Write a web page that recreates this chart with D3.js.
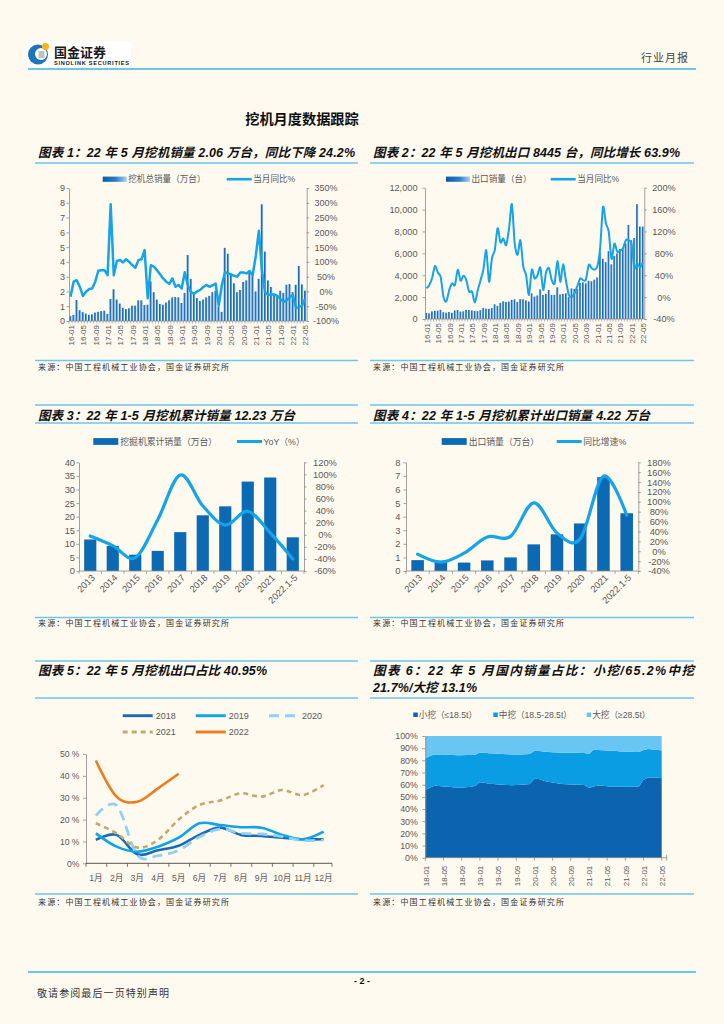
<!DOCTYPE html>
<html>
<head>
<meta charset="utf-8">
<script src="https://cdn.jsdelivr.net/npm/d3@7"></script>
<style>
  body { margin: 0; background: #fffaf0; }
  svg { display: block; }
</style>
</head>
<body>
<div id="page"></div>
<script>
// ---- data ----
// 图表1 挖机总销量（万台），16-01 ~ 22-05
const totalSales = [
  0.33, 0.41, 1.42, 0.73, 0.60, 0.50, 0.42, 0.45, 0.57, 0.62, 0.67, 0.70,
  0.48, 1.48, 2.15, 1.45, 1.18, 0.90, 0.80, 0.86, 1.04, 1.04, 1.40, 1.40,
  1.08, 1.10, 2.68, 1.95, 1.45, 1.15, 1.10, 1.25, 1.40, 1.60, 1.62, 1.60,
  1.22, 1.90, 4.46, 2.85, 1.92, 1.55, 1.35, 1.45, 1.60, 1.70, 1.95, 2.05,
  0.97, 0.62, 4.95, 4.55, 3.20, 2.55, 1.95, 2.10, 2.65, 2.75, 3.30, 3.10,
  2.00, 2.85, 7.90, 4.70, 2.75, 2.30, 1.80, 1.70, 2.05, 1.90, 2.45, 2.50,
  1.95, 2.45, 3.72, 2.48, 2.06
];
// 当月同比%
const totalYoY = [
  -18, 33, 38, 16, -15, -1, 8, 10, 33, 70, 72, 72,
  55, 295, 55, 103, 106, 98, 109, 100, 89, 80, 106, 109,
  140, -23, 89, 84, 72, 58, 44, 33, 26, 44, 16, 22,
  10, 65, 20, -2, -8, 0, 5, 15, 22, 16, 20, 27,
  -48, 20, 65, 61, 58, 53, 50, 64, 64, 61, 69, 55,
  120, 205, 70, -2, -12, -10, -10, -15, -25, -35, -30, -20,
  -12, -55, -53, -48, -25
];
// 图表2 出口销量（台）
const exportSales = [
  560, 520, 700, 750, 760, 840, 620, 580, 640, 560, 780, 820,
  680, 700, 840, 820, 780, 740, 720, 800, 1000, 950, 930, 1000,
  1350, 1200, 1480, 1620, 1560, 1580, 1750, 1800, 1550, 1820, 1800, 1700,
  1600, 2350, 2050, 2150, 2700, 2200, 2300, 2650, 2200, 2200, 2900, 2250,
  2300, 2350, 2000, 2800, 2750, 2750, 3300, 3350, 3250, 3500, 3450, 3600,
  3800, 6100, 5500, 5200, 6200, 5000, 5750, 6000, 6400, 6400, 6900, 8600,
  7200, 7400, 10500, 8450, 8445
];
const exportYoY = [
  16, 22, 35, 57, 45, 37, 0, -8, 13, 25, 22, 50,
  30, 39, 31, 10, 10, -10, 12, 31, 50, 86, 28, 71,
  86, 126, 100, 107, 95, 125, 170, 98, 77, 104, 56, 40,
  4, 50, 34, 40, 54, 13, 45, 53, 31, 25, 66, 28,
  60, 30, 4, 0, 7, 20, 34, 31, 32, 59, 53, 50,
  56, 90, 165, 135, 120, 70, 98, 83, 85, 89, 104, 104,
  98, 53, 62, 54, 64
];

// 图表3/4 年度
const years = ['2013', '2014', '2015', '2016', '2017', '2018', '2019', '2020', '2021', '2022.1-5'];
const cumSales = [11.6, 9.2, 6.0, 7.4, 14.3, 20.5, 23.8, 32.9, 34.4, 12.4];
const cumSalesYoY = [-2, -18, -38, 25, 99, 48, 16, 39, 3, -40];
const cumExports = [0.80, 0.75, 0.62, 0.78, 1.00, 1.96, 2.70, 3.50, 6.90, 4.25];
const cumExportsYoY = [-6, -22, -4, 29, 30, 98, 37, 25, 152, 73];

// 图表5 出口占比（%）
const monthNames = ['1月', '2月', '3月', '4月', '5月', '6月', '7月', '8月', '9月', '10月', '11月', '12月'];
const share2018 = [10.7, 13.0, 4.1, 6.0, 8.0, 13.0, 16.3, 13.0, 12.5, 11.7, 11.0, 11.0];
const share2019 = [13.7, 7.6, 5.3, 7.6, 11.7, 18.3, 17.5, 16.5, 16.3, 13.0, 11.0, 14.5];
const share2020 = [21.8, 26.5, 3.8, 3.5, 6.0, 12.0, 15.7, 13.7, 13.4, 12.2, 10.4, 10.7];
const share2021 = [18.3, 13.7, 7.2, 10.7, 20.0, 26.7, 28.7, 32.0, 30.5, 33.5, 31.2, 35.8];
const share2022 = [47.0, 30.5, 28.2, 34.3, 40.95];

// 图表6 国内销量结构（%），18-01 ~ 22-05
const smallShare = [
  55.6, 57.5, 59.2, 59.0, 58.6, 58.3, 57.8, 57.5, 57.6, 57.8, 58.2, 59.0,
  62.0, 61.5, 60.8, 60.5, 60.2, 60.0, 59.8, 59.6, 59.8, 60.0, 60.2, 60.5,
  64.8, 64.6, 63.3, 62.4, 61.8, 61.2, 60.6, 60.3, 60.2, 60.1, 60.0, 59.8,
  57.2, 58.5, 59.4, 59.2, 58.7, 58.4, 58.2, 58.2, 58.3, 58.4, 58.5, 58.6,
  64.0, 66.0, 66.0, 65.8, 65.2
];
const midShare = [
  25.9, 26.0, 25.6, 25.9, 26.1, 26.2, 26.5, 26.7, 26.6, 26.5, 26.2, 25.6,
  24.5, 24.7, 25.1, 25.2, 25.3, 25.3, 25.3, 25.3, 25.0, 24.9, 24.8, 24.8,
  23.0, 23.0, 23.9, 24.5, 24.9, 25.3, 25.7, 25.9, 26.0, 26.1, 26.1, 26.2,
  28.0, 30.1, 29.0, 29.0, 29.3, 29.4, 29.4, 29.1, 28.8, 28.6, 28.4, 28.2,
  24.5, 23.3, 23.0, 23.0, 22.9
];
const largeShare = [
  18.5, 16.5, 15.2, 15.1, 15.3, 15.5, 15.7, 15.8, 15.8, 15.7, 15.6, 15.4,
  13.5, 13.8, 14.1, 14.3, 14.5, 14.7, 14.9, 15.1, 15.2, 15.1, 15.0, 14.7,
  12.2, 12.4, 12.8, 13.1, 13.3, 13.5, 13.7, 13.8, 13.8, 13.8, 13.9, 14.0,
  14.8, 11.4, 11.6, 11.8, 12.0, 12.2, 12.4, 12.7, 12.9, 13.0, 13.1, 13.2,
  11.5, 10.7, 11.0, 11.2, 11.9
];

const monthLabels = d3.range(77).map(i => `${16 + Math.floor(i / 12)}-${String(i % 12 + 1).padStart(2, '0')}`);
const monthLabels18 = d3.range(53).map(i => `${18 + Math.floor(i / 12)}-${String(i % 12 + 1).padStart(2, '0')}`);

// ---- page ----
const W = 724, H = 1024;
const LAT = '"Liberation Sans", Arial, "Noto Sans CJK SC", sans-serif';
const CJK = '"Noto Sans CJK SC", sans-serif';
const RULE = '#6cc6ee';
const AXIS_C = '#8a8a8a';
const TXT_C = '#595959';
const LINE_C = '#13a4e9';
const BAR_C = '#0c6ab4';

const svg = d3.select('#page').append('svg').attr('width', W).attr('height', H);
svg.append('rect').attr('width', W).attr('height', H).attr('fill', '#fffaf0');

const defs = svg.append('defs');
const grad = defs.append('linearGradient').attr('id', 'barGrad')
  .attr('x1', 0).attr('x2', 1).attr('y1', 0).attr('y2', 0);
grad.append('stop').attr('offset', '0%').attr('stop-color', '#0d5aa7');
grad.append('stop').attr('offset', '55%').attr('stop-color', '#2b7ec7');
grad.append('stop').attr('offset', '100%').attr('stop-color', '#a9d1f0');

// header
let logo = svg.append('g').attr('id', 'logo');
logo.append('rect').attr('x', 27).attr('y', 41).attr('width', 104).attr('height', 26).attr('fill', '#fff');
logo.append('circle').attr('cx', 38).attr('cy', 54.5).attr('r', 10).attr('fill', '#1c74bb');
logo.append('circle').attr('cx', 41).attr('cy', 54).attr('r', 6).attr('fill', '#fff');
logo.append('rect').attr('x', 38.5).attr('y', 51).attr('width', 6).attr('height', 7).attr('fill', '#bfc3c7');
logo.append('circle').attr('cx', 45.5).attr('cy', 46.5).attr('r', 3.6).attr('fill', '#f5b619');
logo.append('text').attr('x', 54).attr('y', 57).attr('font-family', CJK).attr('font-weight', 700)
  .attr('font-size', 13).attr('fill', '#1a1a1a').text('国金证券');
logo.append('text').attr('x', 54).attr('y', 64.5).attr('font-family', LAT).attr('font-weight', 700)
  .attr('font-size', 5.6).attr('fill', '#1a1a1a').attr('textLength', 75).text('SINOLINK SECURITIES');

svg.append('text').attr('x', 641).attr('y', 62).attr('font-family', CJK).attr('font-size', 11)
  .attr('fill', '#444').attr('letter-spacing', 1).text('行业月报');
svg.append('line').attr('x1', 28).attr('x2', 696).attr('y1', 69).attr('y2', 69)
  .attr('stroke', RULE).attr('stroke-width', 2.2);

svg.append('text').attr('x', 302).attr('y', 124).attr('text-anchor', 'middle')
  .attr('font-family', CJK).attr('font-weight', 700).attr('font-size', 14.2).attr('fill', '#111')
  .text('挖机月度数据跟踪');

// footer
svg.append('line').attr('x1', 28).attr('x2', 696).attr('y1', 972).attr('y2', 972)
  .attr('stroke', RULE).attr('stroke-width', 2);
svg.append('text').attr('x', 362).attr('y', 984).attr('text-anchor', 'middle')
  .attr('font-family', LAT).attr('font-weight', 700).attr('font-size', 9).attr('fill', '#111').text('- 2 -');
svg.append('text').attr('x', 37).attr('y', 997).attr('font-family', CJK).attr('font-size', 10)
  .attr('fill', '#333').attr('textLength', 132).text('敬请参阅最后一页特别声明');

// ---- helpers ----
function rule(x1, x2, y) {
  svg.append('line').attr('x1', x1).attr('x2', x2).attr('y1', y).attr('y2', y)
    .attr('stroke', RULE).attr('stroke-width', 1.6);
}
function chartTitle(x, y, text, len) {
  svg.append('text').attr('x', x).attr('y', y)
    .attr('font-family', LAT).attr('font-size', 12.5).attr('font-weight', 700).attr('font-style', 'italic')
    .attr('fill', '#111').attr('textLength', len).attr('lengthAdjust', 'spacing').text(text);
}
function source(x, y) {
  svg.append('text').attr('x', x).attr('y', y).attr('font-family', CJK).attr('font-size', 8)
    .attr('fill', '#333').attr('textLength', 191).text('来源：中国工程机械工业协会，国金证券研究所');
}
function styleAxis(sel, size) {
  sel.attr('font-family', LAT).attr('font-size', size || 9);
  sel.select('.domain').attr('stroke', AXIS_C).attr('stroke-width', 0.8);
  sel.selectAll('.tick line').attr('stroke', AXIS_C).attr('stroke-width', 0.8);
  sel.selectAll('.tick text').attr('fill', TXT_C);
}
function legendText(g, x, y, t, size) {
  g.append('text').attr('x', x).attr('y', y).attr('font-family', LAT).attr('font-size', size || 8.6)
    .attr('fill', TXT_C).text(t);
}

// ---- 图表1 / 图表2: monthly bars + yoy line ----
function monthlyCombo(o) {
  const g = svg.append('g');
  const x = d3.scaleBand().domain(monthLabels).range([o.x0, o.x1]).paddingInner(0.28).paddingOuter(0.14);
  const y = d3.scaleLinear().domain(o.yDom).range([o.yb, o.yt]);
  const y2 = d3.scaleLinear().domain(o.y2Dom).range([o.yb, o.yt]);

  g.append('g').selectAll('rect').data(o.bars).join('rect')
    .attr('x', (d, i) => x(monthLabels[i])).attr('width', x.bandwidth())
    .attr('y', d => y(d)).attr('height', d => y(0) - y(d))
    .attr('fill', 'url(#barGrad)');

  const line = d3.line()
    .x((d, i) => x(monthLabels[i]) + x.bandwidth() / 2)
    .y(d => y2(d))
    .curve(o.curve);
  g.append('path').datum(o.yoy).attr('d', line).attr('fill', 'none')
    .attr('stroke', LINE_C).attr('stroke-width', o.lw).attr('stroke-linejoin', 'round');

  const left = g.append('g').attr('transform', `translate(${o.x0},0)`)
    .call(d3.axisLeft(y).tickValues(o.yTicks).tickSize(2.5).tickPadding(o.lPad).tickSizeOuter(0).tickFormat(o.yFmt));
  styleAxis(left, o.fs);
  const right = g.append('g').attr('transform', `translate(${o.x1},0)`)
    .call(d3.axisRight(y2).tickValues(o.y2Ticks).tickSize(2.5).tickSizeOuter(0).tickFormat(d => d + '%'));
  styleAxis(right, o.fs);
  right.selectAll('.tick text').attr('text-anchor', 'middle').attr('x', o.rCenter - o.x1);

  // category axis
  g.append('line').attr('x1', o.x0).attr('x2', o.x1).attr('y1', o.yb).attr('y2', o.yb)
    .attr('stroke', AXIS_C).attr('stroke-width', 0.8);
  const edge = x.step() * x.paddingInner() / 2;
  g.append('g').selectAll('line').data(monthLabels).join('line')
    .attr('x1', d => x(d) - edge).attr('x2', d => x(d) - edge)
    .attr('y1', o.yb).attr('y2', o.yb + 2.5).attr('stroke', AXIS_C).attr('stroke-width', 0.6);
  g.append('g').selectAll('text').data(monthLabels.filter((d, i) => i % 4 === 0)).join('text')
    .attr('transform', d => `translate(${x(d) + x.bandwidth() / 2 + 0.5},${o.yb + 4}) rotate(-90)`)
    .attr('text-anchor', 'end').attr('dy', '0.35em')
    .attr('font-family', LAT).attr('font-size', 8).attr('fill', TXT_C).text(d => d);

  // legend
  const lg = g.append('g');
  lg.append('rect').attr('x', o.lgBar).attr('y', o.lgY - 2.6).attr('width', 24).attr('height', 5.2)
    .attr('fill', 'url(#barGrad)');
  legendText(lg, o.lgBar + 25.5, o.lgY + 3, o.barName);
  lg.append('line').attr('x1', o.lgLine).attr('x2', o.lgLine + 25).attr('y1', o.lgY).attr('y2', o.lgY)
    .attr('stroke', LINE_C).attr('stroke-width', 2.6);
  legendText(lg, o.lgLine + 26.5, o.lgY + 3, o.lineName);
}

chartTitle(38, 157, '图表 1：22 年 5 月挖机销量 2.06 万台，同比下降 24.2%', 317);
rule(35, 358, 163);
monthlyCombo({
  x0: 69, x1: 306.7, yb: 321, yt: 188,
  yDom: [0, 9], yTicks: d3.range(0, 10), yFmt: d3.format('d'), lPad: 1.5,
  y2Dom: [-100, 350], y2Ticks: d3.range(-100, 351, 50), rCenter: 326,
  bars: totalSales, yoy: totalYoY, curve: d3.curveLinear, lw: 2.5, fs: 9,
  lgY: 179.2, lgBar: 102.7, lgLine: 226.7, barName: '挖机总销量（万台）', lineName: '当月同比%'
});
rule(35, 358, 360.5);
source(38, 370);

chartTitle(373, 157, '图表 2：22 年 5 月挖机出口 8445 台，同比增长 63.9%', 307);
rule(370, 694, 163);
monthlyCombo({
  x0: 425, x1: 644.3, yb: 319, yt: 187.7,
  yDom: [0, 12000], yTicks: d3.range(0, 12001, 2000), yFmt: d3.format(','), lPad: 5,
  y2Dom: [-40, 200], y2Ticks: d3.range(-40, 201, 40), rCenter: 664,
  bars: exportSales, yoy: exportYoY, curve: d3.curveCardinal.tension(0.2), lw: 2, fs: 9.2,
  lgY: 179.2, lgBar: 446, lgLine: 550.7, barName: '出口销量（台）', lineName: '当月同比%'
});
rule(370, 694, 360.5);
source(373, 370);

// ---- 图表3 / 图表4: annual bars + yoy line ----
function annualCombo(o) {
  const g = svg.append('g');
  const x = d3.scaleBand().domain(years).range([o.x0, o.x1]).paddingInner(0.46).paddingOuter(0.23);
  const y = d3.scaleLinear().domain(o.yDom).range([o.yb, o.yt]);
  const y2 = d3.scaleLinear().domain(o.y2Dom).range([o.yb, o.yt]);

  g.append('g').selectAll('rect').data(o.bars).join('rect')
    .attr('x', (d, i) => x(years[i])).attr('width', x.bandwidth())
    .attr('y', d => y(d)).attr('height', d => y(0) - y(d)).attr('fill', BAR_C);

  const line = d3.line()
    .x((d, i) => x(years[i]) + x.bandwidth() / 2)
    .y(d => y2(d))
    .curve(d3.curveCardinal.tension(0));
  g.append('path').datum(o.yoy).attr('d', line).attr('fill', 'none')
    .attr('stroke', LINE_C).attr('stroke-width', 3.2).attr('stroke-linecap', 'round');

  const left = g.append('g').attr('transform', `translate(${o.x0},0)`)
    .call(d3.axisLeft(y).tickValues(o.yTicks).tickSize(2.5).tickPadding(o.lPad).tickSizeOuter(0));
  styleAxis(left, 9.3);
  const right = g.append('g').attr('transform', `translate(${o.x1},0)`)
    .call(d3.axisRight(y2).tickValues(o.y2Ticks).tickSize(2.5).tickSizeOuter(0).tickFormat(d => d + '%'));
  styleAxis(right, 9.3);
  right.selectAll('.tick text').attr('text-anchor', 'middle').attr('x', o.rCenter - o.x1);

  g.append('line').attr('x1', o.x0).attr('x2', o.x1).attr('y1', o.yb).attr('y2', o.yb)
    .attr('stroke', AXIS_C).attr('stroke-width', 0.8);
  const edge = x.step() * x.paddingInner() / 2;
  g.append('g').selectAll('line').data(years.concat(['end'])).join('line')
    .attr('x1', d => d === 'end' ? o.x1 : x(d) - edge).attr('x2', d => d === 'end' ? o.x1 : x(d) - edge)
    .attr('y1', o.yb).attr('y2', o.yb + 3).attr('stroke', AXIS_C).attr('stroke-width', 0.7);
  g.append('g').selectAll('text').data(years).join('text')
    .attr('transform', d => `translate(${x(d) + x.bandwidth() / 2 + 3},${o.yb + 5}) rotate(-45)`)
    .attr('text-anchor', 'end').attr('dy', '0.35em')
    .attr('font-family', LAT).attr('font-size', 9.3).attr('fill', TXT_C).text(d => d);

  const lg = g.append('g');
  lg.append('rect').attr('x', o.lgBar).attr('y', o.lgY - 3.4).attr('width', 25).attr('height', 6.8).attr('fill', BAR_C);
  legendText(lg, o.lgBar + 27, o.lgY + 3, o.barName, 8.8);
  lg.append('line').attr('x1', o.lgLine).attr('x2', o.lgLine + 25).attr('y1', o.lgY).attr('y2', o.lgY)
    .attr('stroke', LINE_C).attr('stroke-width', 3);
  legendText(lg, o.lgLine + 26.5, o.lgY + 3, o.lineName, 8.8);
}

rule(35, 358, 405);
chartTitle(38, 419.5, '图表 3：22 年 1-5 月挖机累计销量 12.23 万台', 257);
rule(35, 358, 423);
annualCombo({
  x0: 79, x1: 304, yb: 571, yt: 462.3,
  yDom: [0, 40], yTicks: d3.range(0, 41, 5), lPad: 1.5,
  y2Dom: [-60, 120], y2Ticks: d3.range(-60, 121, 20), rCenter: 325,
  bars: cumSales, yoy: cumSalesYoY,
  lgY: 441.5, lgBar: 93.3, lgLine: 237, barName: '挖掘机累计销量（万台）', lineName: 'YoY（%）'
});
rule(35, 358, 617.5);
source(38, 626);

rule(370, 694, 405);
chartTitle(373, 419.5, '图表 4：22 年 1-5 月挖机累计出口销量 4.22 万台', 277);
rule(370, 694, 423);
annualCombo({
  x0: 406, x1: 638.3, yb: 571, yt: 462.3,
  yDom: [0, 8], yTicks: d3.range(0, 9), lPad: 3,
  y2Dom: [-40, 180], y2Ticks: d3.range(-40, 181, 20), rCenter: 659,
  bars: cumExports, yoy: cumExportsYoY,
  lgY: 441.5, lgBar: 441.7, lgLine: 556.7, barName: '出口销量（万台）', lineName: '同比增速%'
});
rule(370, 694, 617.5);
source(373, 626);

// ---- 图表5: export share by month ----
(function () {
  rule(35, 358, 661);
  chartTitle(38, 674.5, '图表 5：22 年 5 月挖机出口占比 40.95%', 229);
  rule(35, 358, 698);
  const g = svg.append('g');
  const x0 = 86, x1 = 332, yb = 863.3, yt = 754;
  const x = d3.scaleBand().domain(monthNames).range([x0 - 0.5, x1 + 2]);
  const y = d3.scaleLinear().domain([0, 50]).range([yb, yt]);
  const series = [
    { name: '2018', values: share2018, color: '#1c6cb4', dash: null, w: 2.6 },
    { name: '2019', values: share2019, color: '#0ea4ea', dash: null, w: 2.6 },
    { name: '2020', values: share2020, color: '#8fd1f6', dash: '10,6', w: 2.8 },
    { name: '2021', values: share2021, color: '#c6a76c', dash: '5,4', w: 2.6 },
    { name: '2022', values: share2022, color: '#ed7d1b', dash: null, w: 2.6 }
  ];
  const line = d3.line()
    .x((d, i) => x(monthNames[i]) + x.bandwidth() / 2)
    .y(d => y(d))
    .curve(d3.curveCardinal.tension(0));
  g.selectAll('path.s').data(series).join('path').attr('class', 's')
    .attr('d', d => line(d.values)).attr('fill', 'none')
    .attr('stroke', d => d.color).attr('stroke-width', d => d.w)
    .attr('stroke-dasharray', d => d.dash).attr('stroke-linecap', 'butt');

  const left = g.append('g').attr('transform', `translate(${x0},0)`)
    .call(d3.axisLeft(y).tickValues(d3.range(0, 51, 10)).tickSize(3).tickPadding(3.5).tickSizeOuter(0)
      .tickFormat(d => d === 0 ? '0%' : d + ' %'));
  styleAxis(left, 8.6);
  g.append('line').attr('x1', x0).attr('x2', x1).attr('y1', yb).attr('y2', yb)
    .attr('stroke', '#555').attr('stroke-width', 1);
  g.append('g').selectAll('line').data(d3.range(13)).join('line')
    .attr('x1', i => Math.min(x0 + i * x.step(), x1)).attr('x2', i => Math.min(x0 + i * x.step(), x1))
    .attr('y1', yb).attr('y2', yb + 3.5).attr('stroke', '#555').attr('stroke-width', 0.8);
  g.append('g').selectAll('text').data(monthNames).join('text')
    .attr('x', d => x(d) + x.bandwidth() / 2).attr('y', 881)
    .attr('text-anchor', 'middle').attr('font-family', LAT).attr('font-size', 8.6)
    .attr('fill', TXT_C).text(d => d);

  const pos = [[122.7, 715.7], [195.7, 715.7], [269, 715.7], [122.7, 732], [195.7, 732]];
  const lg = g.append('g');
  series.forEach((s, i) => {
    const [lx, ly] = pos[i];
    lg.append('line').attr('x1', lx).attr('x2', lx + 30).attr('y1', ly).attr('y2', ly)
      .attr('stroke', s.color).attr('stroke-width', s.w + 0.3).attr('stroke-dasharray', s.dash);
    legendText(lg, lx + 33, ly + 3.2, s.name, 9);
  });
  rule(35, 358, 894);
  source(38, 905);
})();

// ---- 图表6: domestic structure, 100% stacked area ----
(function () {
  rule(370, 694, 661);
  chartTitle(373, 674.5, '图表 6：22 年 5 月国内销量占比：小挖/65.2%中挖', 321);
  chartTitle(373, 691.5, '21.7%/大挖 13.1%', 104);
  rule(370, 694, 698);
  const g = svg.append('g');
  const x0 = 425.3, x1 = 661.7, yb = 857.7, yt = 736;
  const rows = monthLabels18.map((m, i) => ({ m, small: smallShare[i], mid: midShare[i], large: largeShare[i] }));
  const keys = ['small', 'mid', 'large'];
  const colors = { small: '#0c63ae', mid: '#0a9de3', large: '#69c6f2' };
  const stack = d3.stack().keys(keys).offset(d3.stackOffsetExpand)(rows);
  const x = d3.scalePoint().domain(monthLabels18).range([x0, x1]);
  const y = d3.scaleLinear().domain([0, 1]).range([yb, yt]);
  const area = d3.area().x(d => x(d.data.m)).y0(d => y(d[0])).y1(d => y(d[1]));
  g.selectAll('path.a').data(stack).join('path').attr('class', 'a')
    .attr('d', area).attr('fill', d => colors[d.key]);

  const left = g.append('g').attr('transform', `translate(${x0},0)`)
    .call(d3.axisLeft(y).tickValues(d3.range(0, 1.01, 0.1)).tickSize(3).tickPadding(4.5).tickSizeOuter(0)
      .tickFormat(d3.format('.0%')));
  styleAxis(left, 8.8);
  g.append('line').attr('x1', x0).attr('x2', x1 + 5).attr('y1', yb).attr('y2', yb)
    .attr('stroke', AXIS_C).attr('stroke-width', 0.8);
  const shown = monthLabels18.filter((d, i) => i % 4 === 0);
  g.append('g').selectAll('line').data(shown).join('line')
    .attr('x1', d => x(d)).attr('x2', d => x(d)).attr('y1', yb).attr('y2', yb + 3)
    .attr('stroke', AXIS_C).attr('stroke-width', 0.8);
  g.append('line').attr('x1', x1 + 5).attr('x2', x1 + 5).attr('y1', yb - 3).attr('y2', yb + 3)
    .attr('stroke', AXIS_C).attr('stroke-width', 0.8);
  g.append('g').selectAll('text').data(shown).join('text')
    .attr('transform', d => `translate(${x(d) + 0.5},${yb + 8}) rotate(-90)`)
    .attr('text-anchor', 'end').attr('dy', '0.35em')
    .attr('font-family', LAT).attr('font-size', 8).attr('fill', TXT_C).text(d => d);

  const lg = g.append('g');
  const items = [
    { key: 'small', x: 413.3, t: '小挖（≤18.5t）' },
    { key: 'mid', x: 493.3, t: '中挖（18.5-28.5t）' },
    { key: 'large', x: 586.7, t: '大挖（≥28.5t）' }
  ];
  items.forEach(it => {
    lg.append('rect').attr('x', it.x).attr('y', 712.5).attr('width', 4.5).attr('height', 4.5).attr('fill', colors[it.key]);
    legendText(lg, it.x + 5.5, 718, it.t, 8.6);
  });
  rule(370, 694, 894);
  source(373, 905);
})();
</script>
</body>
</html>
